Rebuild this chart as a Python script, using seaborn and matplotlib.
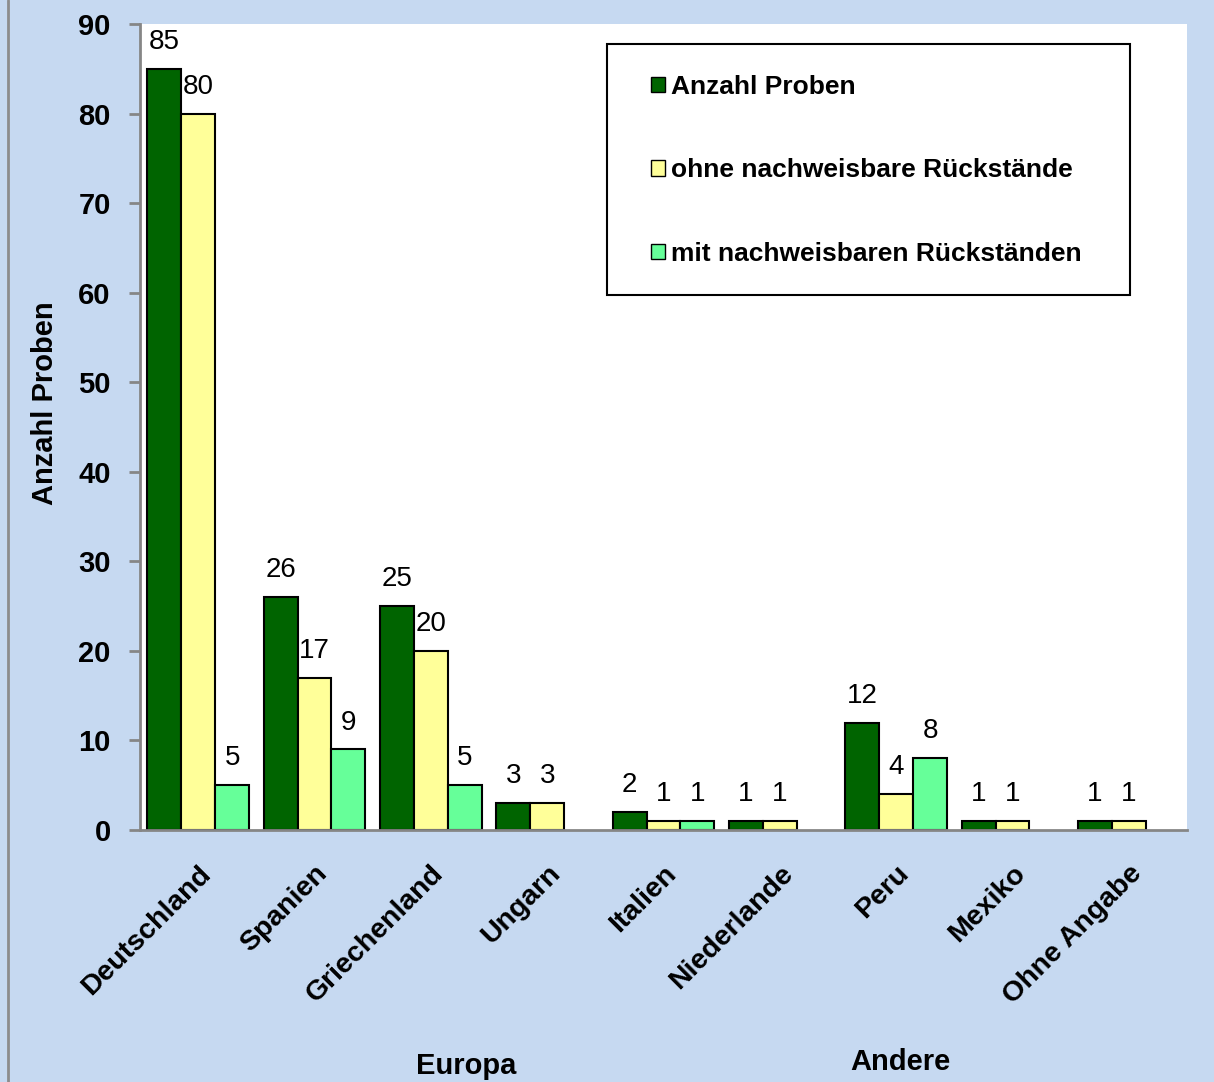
import numpy as np
import pandas as pd
import matplotlib
matplotlib.use("Agg")
import matplotlib.pyplot as plt
from matplotlib.patches import Rectangle
from matplotlib.lines import Line2D
import seaborn as sns

countries = ["Deutschland", "Spanien", "Griechenland", "Ungarn", "Italien",
             "Niederlande", "Peru", "Mexiko", "Ohne Angabe"]
anzahl = [85, 26, 25, 3, 2, 1, 12, 1, 1]
ohne = [80, 17, 20, 3, 1, 1, 4, 1, 1]
mit = [5, 9, 5, np.nan, 1, np.nan, 8, np.nan, np.nan]
series_names = ["Anzahl Proben", "ohne nachweisbare Rückstände", "mit nachweisbaren Rückständen"]
colors = ["#006400", "#ffff99", "#66ff99"]
y_ticks = [0, 10, 20, 30, 40, 50, 60, 70, 80, 90]
group_labels = ["Europa", "Andere"]

rows = []
for name, vals in zip(series_names, [anzahl, ohne, mit]):
    for c, v in zip(countries, vals):
        rows.append({"Land": c, "Serie": name, "Wert": v})
df = pd.DataFrame(rows)

sns.set_theme(style="white")
plt.rcParams["font.family"] = ["Liberation Sans", "DejaVu Sans"]
plt.rcParams["text.color"] = "black"
plt.rcParams["axes.labelcolor"] = "black"
plt.rcParams["xtick.color"] = "black"
plt.rcParams["ytick.color"] = "black"

W, H = 1214, 1082
fig = plt.figure(figsize=(W / 100, H / 100), dpi=100)
fig.patch.set_facecolor("#c6d9f1")
ax = fig.add_axes([140 / W, 1 - 830 / H, (1187 - 140) / W, (830 - 24) / H])
ax.set_facecolor("white")

sns.barplot(data=df, x="Land", y="Wert", hue="Serie", order=countries,
            hue_order=series_names, palette=colors, width=0.876,
            edgecolor="black", linewidth=1.5, saturation=1, ax=ax, legend=False)

for cont in ax.containers:
    labels = []
    for b in cont:
        h = b.get_height()
        labels.append("" if (np.isnan(h) or h == 0) else f"{int(h)}")
    ax.bar_label(cont, labels=labels, padding=10, fontsize=20, color="black")

ax.set_xlim(-0.5, len(countries) - 0.5)
ax.set_ylim(0, 90)
ax.set_yticks(y_ticks)
ax.set_yticklabels([str(t) for t in y_ticks], fontsize=21, fontweight="bold")
ax.set_xticks(range(len(countries)))
ax.set_xticklabels(countries, rotation=45, ha="right", rotation_mode="anchor",
                   fontsize=20.5, fontweight="bold")
ax.set_xticks(np.arange(-0.5, len(countries)), minor=True)
ax.tick_params(axis="x", which="major", length=0, pad=22, labelcolor="black")
ax.tick_params(axis="x", which="minor", length=8, width=2, color="#868686", direction="out")
ax.tick_params(axis="y", which="major", length=8, width=2, color="#868686", direction="out",
               pad=13, left=True, labelcolor="black")
ax.set_xlabel("")
ax.set_ylabel("Anzahl Proben", fontsize=21, fontweight="bold", color="black")
ax.yaxis.set_label_coords(-0.077, 0.53)

for s in ["top", "right"]:
    ax.spines[s].set_visible(False)
for s in ["left", "bottom"]:
    ax.spines[s].set_color("#868686")
    ax.spines[s].set_linewidth(2)

# legend box
x0, x1 = (607 - 140) / 1047, (1130 - 140) / 1047
y0, y1 = (830 - 295) / 806, (830 - 44) / 806
ax.add_patch(Rectangle((x0, y0), x1 - x0, y1 - y0, transform=ax.transAxes,
                       facecolor="white", edgecolor="black", linewidth=1.5, zorder=5))
handles = [Rectangle((0, 0), 1, 1, facecolor=c, edgecolor="black", linewidth=1) for c in colors]
leg = ax.legend(handles, series_names, loc="upper left",
                bbox_to_anchor=((651 - 140) / 1047, (830 - 75) / 806),
                frameon=False, prop={"weight": "bold", "size": 19},
                handlelength=0.52, handleheight=0.52, handletextpad=0.22,
                labelspacing=2.25, borderpad=0, borderaxespad=0)
for t in leg.get_texts():
    t.set_color("black")
leg.set_zorder(6)

fig.text(466 / W, 1 - 1066 / H, group_labels[0], ha="center", va="center",
         fontsize=21, fontweight="bold", color="black")
fig.text(900 / W, 1 - 1062 / H, group_labels[1], ha="center", va="center",
         fontsize=21, fontweight="bold", color="black")
fig.add_artist(Line2D([8 / W, 8 / W], [0, 1], color="#8c8c8c", linewidth=2))

fig.savefig("out.png", dpi=100, facecolor=fig.get_facecolor())
